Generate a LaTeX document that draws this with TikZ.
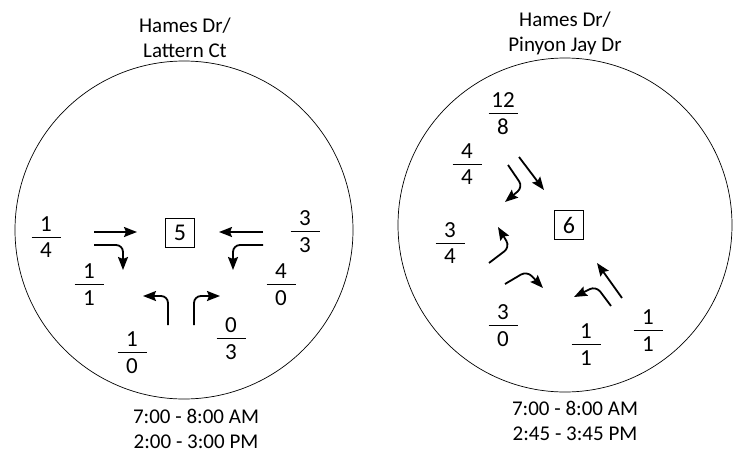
\documentclass[tikz,border=0pt]{standalone}
\usepackage{fontspec}
\setmainfont{Carlito}
\usetikzlibrary{arrows.meta}
\tikzset{
  mv/.style={line width=1.8pt, rounded corners=7pt, -{Stealth[length=13pt,width=10pt,inset=2pt]}},
  cnt/.style={inner sep=0pt, font=\fontsize{23}{23}\selectfont},
  lbl/.style={font=\fontsize{21}{25}\selectfont, align=center},
  idbox/.style={draw, line width=0.8pt, minimum size=29pt, inner sep=0pt, font=\fontsize{24}{24}\selectfont}
}
\begin{document}
\begin{tikzpicture}[x=1pt,y=-1pt]
  \useasboundingbox (0,0) rectangle (741,474);
  \draw[line width=0.7pt] (184,230) circle[radius=169];
  \draw[line width=0.7pt] (565,225) circle[radius=167];
  \node[lbl] (tl) at (185,38) {Hames Dr/\\Lattern Ct};
  \node[lbl] (tr) at (565,33) {Hames Dr/\\Pinyon Jay Dr};
  \node[lbl] (bl) at (196,429) {7:00 - 8:00 AM\\2:00 - 3:00 PM};
  \node[lbl] (br) at (575,421) {7:00 - 8:00 AM\\2:45 - 3:45 PM};
  \node[idbox] (n5) at (180,233) {5};
  \node[idbox] (n6) at (569,225) {6};
  \foreach \x/\y/\a/\b/\n in {46/237/1/4/la, 305/231/3/3/lb, 89/284/1/1/lc, 281/284/4/0/ld,
      132/352/1/0/le, 231/338/0/3/lf, 503/113/12/8/ra, 467/164/4/4/rb, 450/243/3/4/rc,
      503/325/3/0/rd, 586/344/1/1/re, 648/330/1/1/rf} {
    \node[cnt, anchor=base] (\n-t) at (\x,\y-6) {\a};
    \node[cnt, anchor=north] (\n-b) at (\x,\y+6) {\b};
    \draw[line width=0.8pt] (\x-14.5,\y) -- (\x+14.5,\y);
  }
  \draw[mv] (94,232) -- (137,232);
  \draw[mv] (94,245) -- (123,245) -- (123,270);
  \draw[mv] (263,232) -- (219,232);
  \draw[mv] (263,245) -- (233,245) -- (233,270);
  \draw[mv] (168,325) -- (168,296) -- (143,296);
  \draw[mv] (194,325) -- (194,296) -- (220,296);
  \draw[mv] (519,157) -- (544,190);
  \draw[mv] (508,165) -- (523,187) -- (505,202);
  \draw[mv] (489,263) -- (510,247) -- (498,227);
  \draw[mv] (505,284) -- (527,271) -- (543,288);
  \draw[mv] (611,306) -- (596,286) -- (574,297);
  \draw[mv] (622,298) -- (597,263);
\end{tikzpicture}
\end{document}
